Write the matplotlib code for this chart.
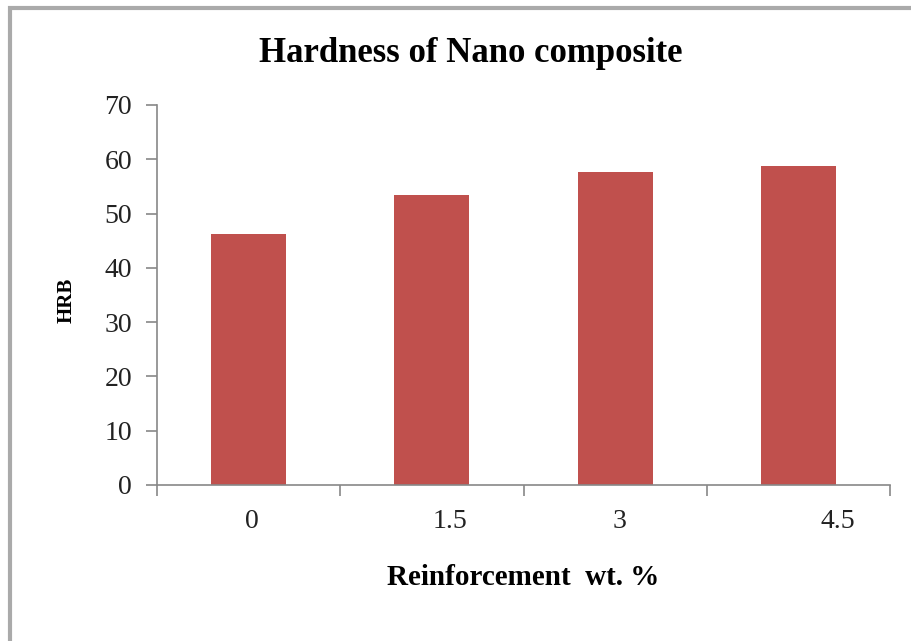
import matplotlib
matplotlib.use("Agg")
import matplotlib.pyplot as plt
import matplotlib.transforms as mtransforms
from matplotlib.patches import Rectangle

categories = ["0", "1.5", "3", "4.5"]
hrb = [46.3, 53.5, 57.6, 58.7]
label_shift = [3, 18, 4, 39]  # pixel nudge of each category label, as in the original

plt.rcParams["font.family"] = ["Liberation Serif", "DejaVu Serif"]

fig = plt.figure(figsize=(9.12, 6.41), dpi=100)
ax = fig.add_axes([157 / 912, 1 - 485 / 641, (890 - 157) / 912, (485 - 105) / 641])

x = list(range(len(categories)))
ax.bar(x, hrb, width=0.41, color="#C0504D", edgecolor="none", zorder=2)

ax.set_xlim(-0.5, len(categories) - 0.5)
ax.set_ylim(0, 70)
ax.set_yticks(range(0, 71, 10))
ax.tick_params(axis="y", length=8, width=1.2, color="#888888", labelsize=20,
               pad=10, labelcolor="#222222")

ax.set_xticks(x)
ax.set_xticklabels(categories)
ax.set_xticks([i - 0.5 for i in range(len(categories) + 1)], minor=True)
ax.tick_params(axis="x", which="major", length=0, labelsize=20, pad=17,
               labelcolor="#222222")
ax.tick_params(axis="x", which="minor", length=8, width=1.2, color="#888888")
for lbl, dx in zip(ax.get_xticklabels(), label_shift):
    lbl.set_transform(lbl.get_transform() +
                      mtransforms.ScaledTranslation(dx / 100, 0, fig.dpi_scale_trans))

for side in ["top", "right"]:
    ax.spines[side].set_visible(False)
for side in ["left", "bottom"]:
    ax.spines[side].set_color("#888888")
    ax.spines[side].set_linewidth(1.2)

fig.text(471 / 912, 1 - 62 / 641, "Hardness of Nano composite", fontsize=25,
         fontweight="bold", ha="center", va="baseline")
ax.set_xlabel("Reinforcement  wt. %", fontsize=21, fontweight="bold", labelpad=22)
ax.set_ylabel("HRB", fontsize=15, fontweight="bold")
ax.yaxis.set_label_coords(-0.110, 0.487)

fig.patches.append(Rectangle((10 / 912, -0.1), 1.2, 1.1 - 8 / 641,
                             transform=fig.transFigure, fill=False,
                             edgecolor="#aaaaaa", linewidth=3))

fig.savefig("out.png", dpi=100)
